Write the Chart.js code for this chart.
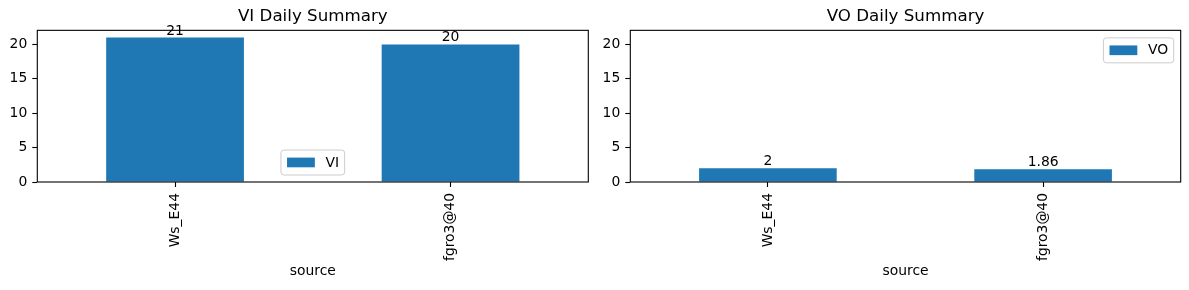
<!DOCTYPE html>
<html>
<head>
<meta charset="utf-8">
<script src="https://cdn.jsdelivr.net/npm/chart.js@4.4.0/dist/chart.umd.min.js"></script>
<style>
html, body { margin: 0; padding: 0; background: #fff; }
#wrap { position: relative; width: 1189px; height: 290px; }
canvas { position: absolute; top: 0; }
</style>
</head>
<body>
<div id="wrap">
  <canvas id="viChart" width="594" height="290" style="left:0"></canvas>
  <canvas id="voChart" width="595" height="290" style="left:594px"></canvas>
</div>
<script>
// data
const sources = ['Ws_E44', 'fgro3@40'];
const viValues = [21, 20];
const voValues = [2, 1.86];
const yTicks = [0, 5, 10, 15, 20];
const yMax = 22.05;

const FONT = 'DejaVu Sans';
const BLUE = '#1f77b4';

// box around the plot area, like matplotlib spines
const framePlugin = {
    id: 'frame',
    afterDatasetsDraw(chart) {
        const a = chart.chartArea;
        const ctx = chart.ctx;
        ctx.save();
        ctx.strokeStyle = '#000';
        ctx.lineWidth = 1.1;
        ctx.strokeRect(a.left, a.top, a.right - a.left, a.bottom - a.top);
        ctx.restore();
    }
};

// value labels on top of the bars
const barLabelPlugin = {
    id: 'barLabels',
    afterDatasetsDraw(chart) {
        const ctx = chart.ctx;
        const ds = chart.data.datasets[0];
        const meta = chart.getDatasetMeta(0);
        ctx.save();
        ctx.font = '13.9px "' + FONT + '"';
        ctx.fillStyle = '#000';
        ctx.textAlign = 'center';
        ctx.textBaseline = 'alphabetic';
        meta.data.forEach(function(bar, i) {
            ctx.fillText(String(ds.data[i]), bar.x, bar.y - 3);
        });
        ctx.restore();
    }
};

// matplotlib-looking legend box
const boxLegendPlugin = {
    id: 'boxLegend',
    afterDraw(chart, args, opts) {
        const ctx = chart.ctx;
        const a = chart.chartArea;
        const ds = chart.data.datasets[0];
        ctx.save();
        ctx.font = '13.9px "' + FONT + '"';
        const tw = ctx.measureText(ds.label).width;
        const pad = 5.6, handle = 27.8, gap = 11.1;
        const w = pad + handle + gap + tw + pad;
        const h = 25;
        let x, y;
        if (opts.loc === 'lower center') {
            x = (a.left + a.right) / 2 - w / 2;
            y = a.bottom - 7 - h;
        } else {
            x = a.right - 7 - w;
            y = a.top + 7.5;
        }
        ctx.beginPath();
        ctx.roundRect(x, y, w, h, 3);
        ctx.fillStyle = 'rgba(255,255,255,0.8)';
        ctx.fill();
        ctx.strokeStyle = '#cccccc';
        ctx.lineWidth = 1;
        ctx.stroke();
        ctx.fillStyle = ds.backgroundColor;
        ctx.fillRect(x + pad + 0.5, y + h / 2 - 4.9, handle, 9.7);
        ctx.fillStyle = '#000';
        ctx.textBaseline = 'middle';
        ctx.textAlign = 'left';
        ctx.fillText(ds.label, x + pad + handle + gap, y + h / 2 + 0.5);
        ctx.restore();
    }
};

function makeChart(id, title, label, values, legendLoc, yAxisWidth, rightPad) {
    const ctx = document.getElementById(id).getContext('2d');
    return new Chart(ctx, {
        type: 'bar',
        data: {
            labels: sources,
            datasets: [{
                label: label,
                data: values,
                backgroundColor: BLUE,
                borderWidth: 0,
                barPercentage: 0.5,
                categoryPercentage: 1.0
            }]
        },
        plugins: [framePlugin, barLabelPlugin, boxLegendPlugin],
        options: {
            responsive: false,
            animation: false,
            devicePixelRatio: 1,
            layout: { padding: { left: 0, right: rightPad, top: 0, bottom: 0 } },
            scales: {
                x: {
                    type: 'category',
                    offset: true,
                    afterFit: function(s) { s.height = 108; },
                    grid: {
                        display: true,
                        drawOnChartArea: false,
                        drawTicks: true,
                        tickLength: 5,
                        tickColor: '#000',
                        tickWidth: 1.1,
                        offset: false
                    },
                    border: { display: false },
                    ticks: {
                        minRotation: 90,
                        maxRotation: 90,
                        padding: 6,
                        color: '#000',
                        font: { family: FONT, size: 13.9 }
                    },
                    title: {
                        display: true,
                        text: 'source',
                        color: '#000',
                        font: { family: FONT, size: 13.9 },
                        padding: { top: 0, bottom: 10 }
                    }
                },
                y: {
                    min: 0,
                    max: yMax,
                    afterFit: function(s) { s.width = yAxisWidth; },
                    afterBuildTicks: function(s) {
                        s.ticks = yTicks.map(function(v) { return { value: v }; });
                    },
                    grid: {
                        display: true,
                        drawOnChartArea: false,
                        drawTicks: true,
                        tickLength: 5,
                        tickColor: '#000',
                        tickWidth: 1.1
                    },
                    border: { display: false },
                    ticks: {
                        padding: 5,
                        color: '#000',
                        font: { family: FONT, size: 13.9 }
                    }
                }
            },
            plugins: {
                legend: { display: false },
                tooltip: { enabled: false },
                title: {
                    display: true,
                    fullSize: false,
                    text: title,
                    color: '#000',
                    font: { family: FONT, size: 16.7, weight: 'normal' },
                    padding: { top: 6.3, bottom: 4 }
                },
                boxLegend: { loc: legendLoc }
            }
        }
    });
}

makeChart('viChart', 'VI Daily Summary', 'VI', viValues, 'lower center', 37.3, 5.7);
makeChart('voChart', 'VO Daily Summary', 'VO', voValues, 'upper right', 36.3, 8.3);
</script>
</body>
</html>
